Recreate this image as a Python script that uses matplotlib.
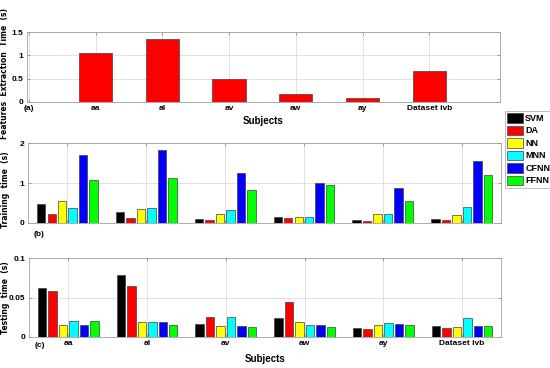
import numpy as np
import matplotlib
matplotlib.use("Agg")
import matplotlib.pyplot as plt
from matplotlib.ticker import FuncFormatter

plt.rcParams['font.family'] = ['Liberation Sans Narrow', 'Liberation Sans', 'DejaVu Sans']

subjects = ['aa', 'al', 'av', 'aw', 'ay', 'Dataset ivb']
methods = ['SVM', 'DA', 'NN', 'MNN', 'CFNN', 'FFNN']
colors = ['#000000', '#ff0000', '#ffff00', '#00ffff', '#0000ff', '#00ff00']

# features extraction time (s)
feat_time = [1.06, 1.36, 0.49, 0.16, 0.09, 0.66]

# training time (s), one list per method
train_svm = [0.47, 0.28, 0.10, 0.14, 0.08, 0.10]
train_da = [0.21, 0.13, 0.08, 0.11, 0.04, 0.06]
train_nn = [0.55, 0.35, 0.21, 0.14, 0.21, 0.19]
train_mnn = [0.36, 0.36, 0.33, 0.14, 0.22, 0.40]
train_cfnn = [1.71, 1.84, 1.26, 0.99, 0.87, 1.56]
train_ffnn = [1.08, 1.12, 0.83, 0.95, 0.54, 1.20]

# testing time (s)
test_svm = [0.0616, 0.0793, 0.0161, 0.0236, 0.0107, 0.0140]
test_da = [0.0587, 0.0649, 0.0252, 0.0442, 0.0099, 0.0116]
test_nn = [0.0149, 0.0182, 0.0136, 0.0194, 0.0149, 0.0128]
test_mnn = [0.0202, 0.0194, 0.0248, 0.0145, 0.0178, 0.0236]
test_cfnn = [0.0153, 0.0190, 0.0136, 0.0153, 0.0165, 0.0136]
test_ffnn = [0.0202, 0.0145, 0.0124, 0.0124, 0.0145, 0.0140]

train = [train_svm, train_da, train_nn, train_mnn, train_cfnn, train_ffnn]
test = [test_svm, test_da, test_nn, test_mnn, test_cfnn, test_ffnn]

fig = plt.figure(figsize=(5.5, 3.68), dpi=100)
ax1 = fig.add_axes([0.049, 0.7236, 0.860, 0.1886])
ax2 = fig.add_axes([0.051, 0.3948, 0.860, 0.2158])
ax3 = fig.add_axes([0.0527, 0.085, 0.859, 0.213])

fs = 6
lfs = 5.5
fmt = FuncFormatter(lambda v, p: '%g' % v)


def style(ax):
    ax.grid(True, color='#dcdcdc', linewidth=0.6)
    ax.set_axisbelow(True)
    for s in ax.spines.values():
        s.set_color('#a0a0a0')
        s.set_linewidth(0.6)
    ax.tick_params(direction='in', length=2, width=0.5, color='#808080',
                   labelsize=fs, pad=2.5, top=True, right=True)
    for lab in ax.get_xticklabels() + ax.get_yticklabels():
        lab.set_fontweight('bold')
    ax.yaxis.set_major_formatter(fmt)


# panel (a)
pos_a = np.arange(1, 7)
ax1.bar(pos_a, feat_time, width=0.5, color='#ff0000', edgecolor='#404040', linewidth=0.5)
ax1.set_xlim(-0.03, 7.06)
ax1.set_ylim(0, 1.5)
ax1.set_yticks([0, 0.5, 1, 1.5])
ax1.set_xticks(np.arange(0, 7))
ax1.set_xticklabels(['(a)'] + subjects)
ax1.set_xlabel('Subjects', fontsize=fs + 1, fontweight='bold', labelpad=3)
ax1.set_ylabel('Features  Extraction  Time  (s)', fontsize=lfs, fontweight='bold',
               family='DejaVu Sans')
ax1.yaxis.set_label_coords(-0.037, 0.41)
style(ax1)

# panels (b) and (c): grouped bars
pos = np.arange(1, 7)
step = 0.133
bw = 0.107
handles = []
for i in range(6):
    off = (i - 2.5) * step
    h = ax2.bar(pos + off, train[i], width=bw, color=colors[i], edgecolor='#404040',
                linewidth=0.5, label=methods[i])
    ax3.bar(pos + off, test[i], width=bw, color=colors[i], edgecolor='#404040', linewidth=0.5)
    handles.append(h)

ax2.set_xlim(0.5, 6.5)
ax2.set_ylim(0, 2)
ax2.set_yticks([0, 1, 2])
ax2.set_xticks(pos)
ax2.set_xticklabels([])
ax2.set_ylabel('Training  time  (s)', fontsize=lfs, fontweight='bold', family='DejaVu Sans')
ax2.yaxis.set_label_coords(-0.039, 0.41)
ax2.text(0.57, -0.17, '(b)', fontsize=fs, fontweight='bold', transform=ax2.get_xaxis_transform())
style(ax2)

ax3.set_xlim(0.5, 6.5)
ax3.set_ylim(0, 0.1)
ax3.set_yticks([0, 0.05, 0.1])
ax3.set_xticks(pos)
ax3.set_xticklabels(subjects)
ax3.set_xlabel('Subjects', fontsize=fs + 1, fontweight='bold', labelpad=5)
ax3.set_ylabel('Testing  time  (s)', fontsize=lfs, fontweight='bold', family='DejaVu Sans')
ax3.yaxis.set_label_coords(-0.041, 0.5)
ax3.text(0.57, -0.13, '(c)', fontsize=fs, fontweight='bold', transform=ax3.get_xaxis_transform())
style(ax3)

leg = fig.legend(handles=handles, loc='upper left', bbox_to_anchor=(0.918, 0.699),
                 fontsize=6.5, frameon=True, fancybox=False, handlelength=1.8,
                 handleheight=1.25, handletextpad=0.2, labelspacing=0.3,
                 borderpad=0.25, borderaxespad=0)
leg.get_frame().set_edgecolor('#a0a0a0')
leg.get_frame().set_linewidth(0.6)
for t in leg.get_texts():
    t.set_fontweight('bold')

fig.savefig('out.png', dpi=100)
